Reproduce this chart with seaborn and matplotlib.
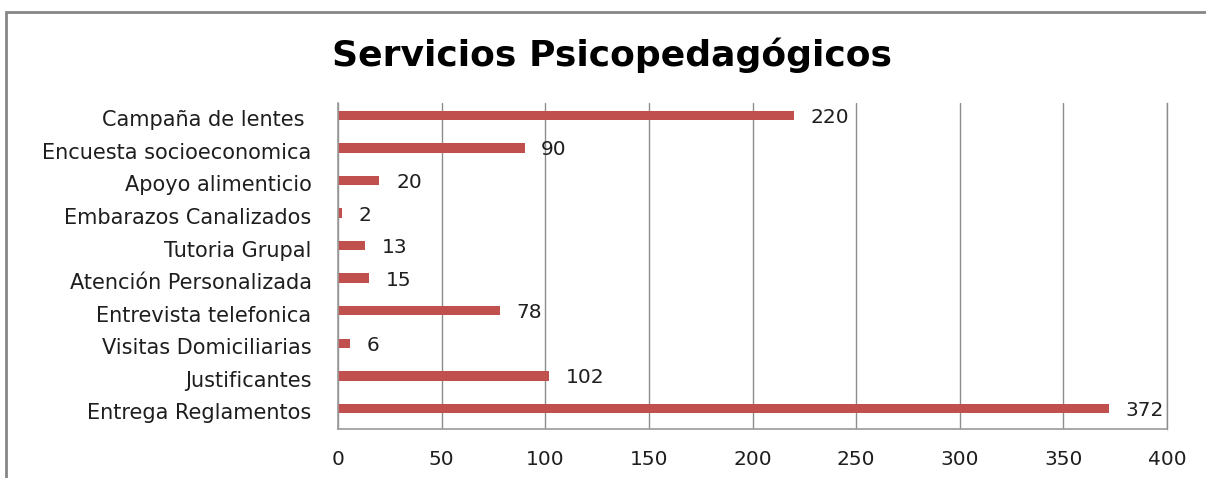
import pandas as pd
import matplotlib
matplotlib.use("Agg")
import matplotlib.pyplot as plt
import matplotlib.transforms as mtransforms
import seaborn as sns
from matplotlib.patches import Rectangle

# data (top to bottom)
servicios = [
    "Campaña de lentes ",
    "Encuesta socioeconomica",
    "Apoyo alimenticio",
    "Embarazos Canalizados",
    "Tutoria Grupal",
    "Atención Personalizada",
    "Entrevista telefonica",
    "Visitas Domiciliarias",
    "Justificantes",
    "Entrega Reglamentos",
]
cantidades = [220, 90, 20, 2, 13, 15, 78, 6, 102, 372]
x_ticks = [0, 50, 100, 150, 200, 250, 300, 350, 400]

df = pd.DataFrame({"servicio": servicios, "cantidad": cantidades})

sns.set_style("white")
plt.rcParams["font.family"] = ["DejaVu Sans"]

fig = plt.figure(figsize=(12.06, 4.78), dpi=100)
ax = fig.add_axes([338 / 1206, 1 - 429 / 478, (1167 - 338) / 1206, (429 - 103) / 478])

sns.barplot(data=df, x="cantidad", y="servicio", orient="h", color="#C0504D",
            saturation=1, width=0.29, linewidth=0, ax=ax)

ax.set_xlim(0, 400)
ax.set_ylim(9.63, -0.377)
ax.set_xticks(x_ticks)
ax.set_xlabel("")
ax.set_ylabel("")
ax.tick_params(axis="x", labelsize=14.5, length=0, pad=15, colors="#1e1e1e")
ax.tick_params(axis="y", labelsize=15, length=0, pad=19, colors="#1e1e1e")
ax.xaxis.grid(True, color="#8c8c8c", linewidth=1)
ax.set_axisbelow(True)
ax.spines["top"].set_visible(False)
ax.spines["right"].set_color("#8c8c8c")
ax.spines["right"].set_linewidth(1)
for side in ["left", "bottom"]:
    ax.spines[side].set_color("#9a9a9a")
    ax.spines[side].set_linewidth(1.2)

# category labels sit slightly below the bar centres in the reference
shift = mtransforms.ScaledTranslation(0, -3 / 100, fig.dpi_scale_trans)
for lbl in ax.get_yticklabels():
    lbl.set_transform(lbl.get_transform() + shift)

for i, v in enumerate(cantidades):
    ax.annotate(str(v), (v, i), xytext=(12, -1.5), textcoords="offset points",
                va="center", ha="left", fontsize=14.5, color="#1e1e1e")

fig.text(612 / 1206, 1 - 55 / 478, "Servicios Psicopedagógicos", ha="center", va="center",
         fontsize=26, fontweight="bold", color="black")

# outer chart border (cut off at right and bottom in the reference)
fig.patches.append(Rectangle((6 / 1206, -0.1), 1.1, 1.1 - 12 / 478,
                             transform=fig.transFigure, fill=False,
                             edgecolor="#868686", linewidth=2))

fig.savefig("out.png", dpi=100)
